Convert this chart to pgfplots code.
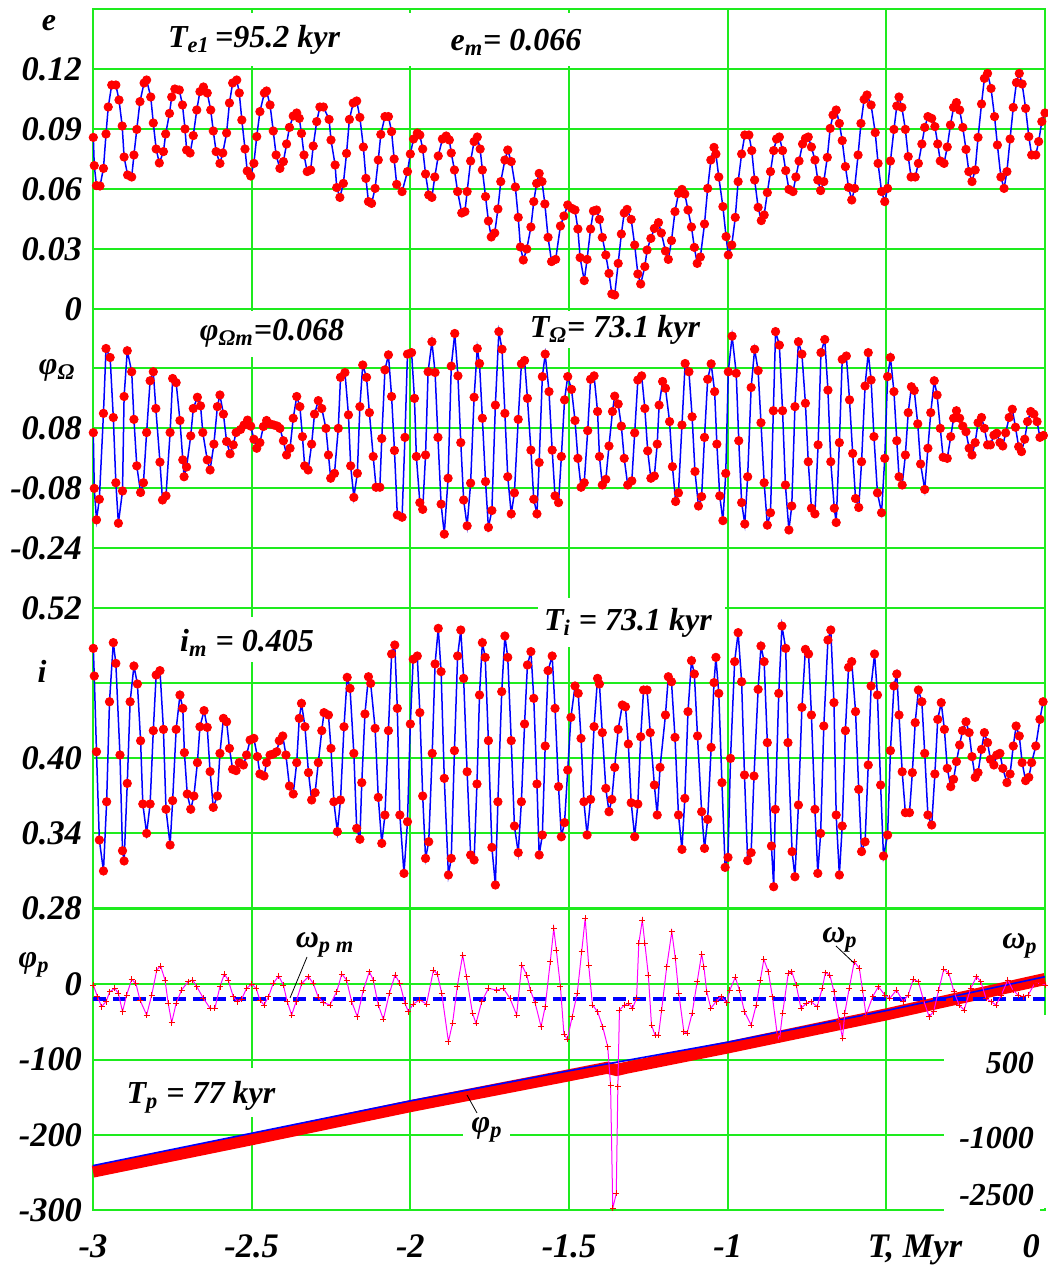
\documentclass[border=0pt]{standalone}
\usepackage{pgfplots}
\usepackage{pgfplotstable}
\pgfplotsset{compat=1.18}
\usepackage{fontspec}
\setmainfont{Liberation Serif}
\definecolor{gridg}{RGB}{30,235,30}
\definecolor{dotred}{RGB}{255,0,0}
\definecolor{lineblue}{RGB}{0,0,255}
\definecolor{pinkm}{RGB}{255,0,255}
\newcommand\lab{\fontsize{16}{18}\selectfont\bfseries\itshape}
\newcommand\tlab{\fontsize{17.2}{19}\selectfont\bfseries\itshape}
\pgfplotsset{
 panel/.style={scale only axis, anchor=south west, width=476pt, xmin=-3, xmax=0,
   xtick=\empty, axis line style={draw=none}, major tick length=0pt,
   ymajorgrids, grid style={gridg, line width=1pt},
   yticklabel style={font=\tlab, xshift=0pt},
   /pgf/number format/assume math mode=true},
 dots/.style={only marks, mark=*, mark size=2.1pt, mark options={draw=dotred, fill=dotred}},
 bline/.style={lineblue, line width=0.75pt, no marks},
}
% ---------------- data ----------------
\pgfplotstableread{
T e
-2.999 0.0858
-2.996 0.0717
-2.989 0.0617
-2.978 0.0615
-2.967 0.0703
-2.959 0.0875
-2.952 0.101
-2.941 0.112
-2.928 0.112
-2.918 0.1045
-2.908 0.0915
-2.902 0.076
-2.891 0.067
-2.878 0.066
-2.871 0.077
-2.862 0.0898
-2.852 0.1037
-2.839 0.113
-2.831 0.1145
-2.818 0.106
-2.810 0.093
-2.801 0.080
-2.791 0.073
-2.778 0.0787
-2.771 0.0875
-2.759 0.0978
-2.752 0.106
-2.742 0.110
-2.728 0.1095
-2.718 0.102
-2.710 0.090
-2.705 0.0795
-2.694 0.078
-2.684 0.0867
-2.673 0.0995
-2.663 0.1087
-2.652 0.111
-2.640 0.108
-2.629 0.0995
-2.621 0.089
-2.612 0.0787
-2.600 0.0728
-2.591 0.078
-2.579 0.088
-2.570 0.103
-2.560 0.113
-2.547 0.1145
-2.539 0.108
-2.531 0.0945
-2.521 0.080
-2.514 0.069
-2.503 0.0665
-2.493 0.0728
-2.484 0.0862
-2.474 0.0987
-2.460 0.108
-2.453 0.109
-2.442 0.102
-2.432 0.089
-2.423 0.077
-2.411 0.0703
-2.400 0.0737
-2.390 0.0825
-2.381 0.0908
-2.369 0.0965
-2.358 0.098
-2.350 0.0953
-2.343 0.0878
-2.335 0.077
-2.325 0.0687
-2.314 0.0695
-2.306 0.0815
-2.295 0.0937
-2.285 0.101
-2.274 0.101
-2.256 0.0948
-2.250 0.0845
-2.237 0.072
-2.232 0.0607
-2.222 0.0558
-2.211 0.0628
-2.201 0.0778
-2.192 0.0948
-2.180 0.103
-2.169 0.104
-2.159 0.0958
-2.148 0.081
-2.140 0.0653
-2.132 0.0537
-2.122 0.0528
-2.111 0.0603
-2.101 0.0745
-2.093 0.0873
-2.080 0.0962
-2.069 0.0962
-2.059 0.0887
-2.051 0.075
-2.043 0.0623
-2.026 0.0587
-2.009 0.0687
-2.000 0.0775
-1.990 0.085
-1.978 0.088
-1.970 0.087
-1.961 0.080
-1.952 0.0675
-1.942 0.057
-1.932 0.0558
-1.923 0.066
-1.912 0.0765
-1.899 0.085
-1.887 0.0865
-1.877 0.0845
-1.871 0.078
-1.861 0.0695
-1.851 0.0587
-1.838 0.048
-1.828 0.0487
-1.821 0.0587
-1.810 0.074
-1.799 0.0837
-1.789 0.086
-1.780 0.080
-1.773 0.0695
-1.763 0.0562
-1.754 0.044
-1.745 0.036
-1.734 0.038
-1.724 0.050
-1.715 0.0637
-1.702 0.0745
-1.693 0.0795
-1.682 0.0737
-1.669 0.061
-1.660 0.0458
-1.653 0.031
-1.644 0.0245
-1.633 0.030
-1.620 0.041
-1.611 0.0537
-1.602 0.0628
-1.594 0.0678
-1.585 0.0637
-1.576 0.0525
-1.566 0.0358
-1.555 0.0237
-1.542 0.0248
-1.527 0.0415
-1.516 0.0465
-1.504 0.052
-1.491 0.0503
-1.481 0.0495
-1.472 0.040
-1.465 0.0257
-1.452 0.0142
-1.443 0.0248
-1.432 0.040
-1.423 0.049
-1.413 0.0495
-1.404 0.0448
-1.395 0.0358
-1.384 0.027
-1.374 0.0178
-1.365 0.0075
-1.356 0.007
-1.345 0.0228
-1.335 0.0375
-1.326 0.048
-1.317 0.0498
-1.304 0.0448
-1.293 0.032
-1.283 0.0175
-1.274 0.0125
-1.261 0.0212
-1.254 0.0295
-1.242 0.0353
-1.231 0.0403
-1.218 0.0432
-1.209 0.038
-1.196 0.029
-1.187 0.0248
-1.177 0.0342
-1.166 0.0487
-1.155 0.0578
-1.144 0.0598
-1.135 0.0575
-1.125 0.0495
-1.114 0.041
-1.105 0.0308
-1.096 0.0228
-1.086 0.026
-1.073 0.0425
-1.063 0.0603
-1.053 0.0745
-1.043 0.0808
-1.037 0.0775
-1.028 0.066
-1.015 0.0512
-1.005 0.0362
-0.998 0.027
-0.987 0.032
-0.976 0.0458
-0.967 0.0637
-0.956 0.0775
-0.946 0.087
-0.933 0.087
-0.924 0.0792
-0.915 0.0645
-0.904 0.0508
-0.894 0.0442
-0.885 0.047
-0.875 0.0582
-0.865 0.0687
-0.855 0.0792
-0.846 0.085
-0.837 0.086
-0.827 0.0792
-0.817 0.0692
-0.807 0.0598
-0.794 0.0587
-0.785 0.066
-0.775 0.074
-0.764 0.0825
-0.755 0.0853
-0.746 0.086
-0.736 0.081
-0.725 0.0745
-0.716 0.0645
-0.707 0.0592
-0.697 0.0637
-0.686 0.0758
-0.677 0.0903
-0.668 0.097
-0.658 0.0995
-0.648 0.0928
-0.639 0.0842
-0.629 0.0712
-0.619 0.0608
-0.609 0.0545
-0.600 0.0603
-0.589 0.077
-0.580 0.0928
-0.570 0.1048
-0.561 0.107
-0.548 0.102
-0.535 0.0882
-0.526 0.0728
-0.515 0.0587
-0.505 0.0537
-0.496 0.0603
-0.487 0.074
-0.476 0.0898
-0.467 0.1015
-0.460 0.106
-0.451 0.1008
-0.440 0.0898
-0.431 0.0762
-0.422 0.066
-0.409 0.066
-0.399 0.0728
-0.388 0.0825
-0.379 0.0908
-0.369 0.0962
-0.357 0.0953
-0.347 0.0912
-0.338 0.0825
-0.330 0.074
-0.318 0.0728
-0.308 0.081
-0.298 0.092
-0.288 0.1008
-0.279 0.1032
-0.269 0.0995
-0.259 0.0908
-0.249 0.0798
-0.240 0.0687
-0.230 0.0637
-0.220 0.0695
-0.211 0.0858
-0.200 0.1025
-0.191 0.1153
-0.181 0.1178
-0.170 0.1103
-0.159 0.0962
-0.150 0.082
-0.139 0.066
-0.129 0.0603
-0.120 0.0687
-0.110 0.085
-0.100 0.1008
-0.090 0.1132
-0.081 0.1178
-0.072 0.1125
-0.061 0.1003
-0.051 0.0862
-0.042 0.077
-0.029 0.077
-0.020 0.0837
-0.010 0.0937
0.000 0.098
}\edata
\pgfplotstableread{
T v
-2.999 0.0676
-2.996 -0.081
-2.989 -0.165
-2.980 -0.110
-2.967 0.119
-2.959 0.292
-2.946 0.268
-2.936 0.108
-2.928 -0.066
-2.920 -0.174
-2.907 -0.088
-2.902 0.164
-2.892 0.286
-2.878 0.230
-2.871 0.103
-2.862 -0.021
-2.850 -0.092
-2.841 -0.066
-2.831 0.068
-2.820 0.206
-2.810 0.230
-2.802 0.132
-2.789 -0.011
-2.781 -0.112
-2.770 -0.101
-2.757 0.068
-2.749 0.212
-2.738 0.201
-2.726 0.100
-2.717 -0.005
-2.713 -0.050
-2.705 -0.024
-2.692 0.059
-2.684 0.132
-2.671 0.162
-2.661 0.139
-2.654 0.068
-2.640 -0.005
-2.631 -0.032
-2.619 0.037
-2.608 0.137
-2.600 0.168
-2.589 0.117
-2.579 0.044
-2.568 0.011
-2.558 0.035
-2.549 0.068
-2.535 0.076
-2.524 0.088
-2.513 0.101
-2.503 0.085
-2.493 0.050
-2.484 0.026
-2.474 0.041
-2.463 0.084
-2.453 0.100
-2.442 0.091
-2.430 0.088
-2.419 0.085
-2.411 0.079
-2.400 0.046
-2.390 0.008
-2.379 0.026
-2.369 0.106
-2.358 0.164
-2.348 0.137
-2.340 0.057
-2.333 -0.021
-2.322 -0.032
-2.311 0.037
-2.302 0.117
-2.290 0.153
-2.279 0.132
-2.266 0.079
-2.258 0.008
-2.251 -0.054
-2.239 -0.041
-2.227 0.079
-2.220 0.215
-2.206 0.228
-2.195 0.115
-2.188 -0.021
-2.178 -0.105
-2.167 -0.041
-2.159 0.137
-2.150 0.248
-2.138 0.215
-2.129 0.121
-2.117 0.004
-2.108 -0.078
-2.096 -0.078
-2.090 0.052
-2.080 0.235
-2.069 0.275
-2.059 0.164
-2.050 0.020
-2.041 -0.152
-2.026 -0.158
-2.017 0.055
-2.009 0.277
-1.996 0.281
-1.987 0.159
-1.981 0.004
-1.970 -0.119
-1.961 -0.137
-1.952 0.008
-1.944 0.230
-1.932 0.310
-1.922 0.228
-1.913 0.055
-1.903 -0.123
-1.893 -0.203
-1.881 -0.054
-1.871 0.245
-1.860 0.332
-1.850 0.219
-1.841 0.041
-1.832 -0.112
-1.821 -0.181
-1.810 -0.067
-1.799 0.162
-1.789 0.292
-1.782 0.252
-1.773 0.106
-1.763 -0.063
-1.754 -0.185
-1.743 -0.140
-1.732 0.141
-1.721 0.337
-1.711 0.290
-1.702 0.119
-1.693 -0.050
-1.682 -0.149
-1.672 -0.093
-1.660 0.103
-1.650 0.251
-1.640 0.260
-1.631 0.159
-1.620 0.021
-1.611 -0.110
-1.601 -0.149
-1.594 -0.012
-1.584 0.217
-1.575 0.277
-1.563 0.177
-1.553 0.021
-1.544 -0.101
-1.533 -0.119
-1.524 0.004
-1.514 0.155
-1.504 0.217
-1.492 0.183
-1.481 0.100
-1.472 -0.001
-1.462 -0.078
-1.452 -0.066
-1.441 0.073
-1.432 0.210
-1.421 0.219
-1.410 0.124
-1.404 0.004
-1.395 -0.072
-1.384 -0.057
-1.374 0.032
-1.363 0.124
-1.356 0.165
-1.345 0.144
-1.335 0.085
-1.326 -0.001
-1.315 -0.072
-1.302 -0.061
-1.293 0.067
-1.283 0.208
-1.271 0.219
-1.261 0.132
-1.252 0.019
-1.242 -0.054
-1.231 -0.048
-1.222 0.037
-1.216 0.141
-1.205 0.204
-1.196 0.186
-1.183 0.097
-1.174 -0.023
-1.164 -0.116
-1.155 -0.093
-1.144 0.088
-1.134 0.252
-1.122 0.230
-1.112 0.110
-1.103 -0.036
-1.092 -0.128
-1.082 -0.103
-1.073 0.055
-1.063 0.210
-1.052 0.251
-1.041 0.177
-1.034 0.037
-1.025 -0.101
-1.015 -0.167
-1.006 -0.041
-0.998 0.230
-0.986 0.325
-0.973 0.226
-0.965 0.046
-0.956 -0.119
-0.946 -0.176
-0.937 -0.050
-0.926 0.188
-0.915 0.290
-0.904 0.233
-0.895 0.094
-0.885 -0.066
-0.875 -0.179
-0.865 -0.146
-0.856 0.126
-0.849 0.337
-0.837 0.301
-0.827 0.126
-0.818 -0.072
-0.807 -0.192
-0.798 -0.128
-0.788 0.137
-0.777 0.310
-0.766 0.277
-0.755 0.146
-0.746 -0.010
-0.736 -0.134
-0.725 -0.149
-0.715 0.035
-0.706 0.281
-0.694 0.316
-0.684 0.181
-0.675 -0.010
-0.664 -0.134
-0.658 -0.172
-0.648 0.041
-0.639 0.263
-0.626 0.272
-0.616 0.155
-0.606 0.012
-0.597 -0.108
-0.587 -0.132
-0.578 -0.010
-0.567 0.192
-0.557 0.281
-0.548 0.208
-0.539 0.057
-0.528 -0.093
-0.515 -0.146
-0.505 -0.001
-0.496 0.217
-0.487 0.268
-0.476 0.177
-0.467 0.046
-0.460 -0.050
-0.450 -0.072
-0.440 0.008
-0.431 0.121
-0.421 0.190
-0.412 0.180
-0.401 0.091
-0.392 -0.016
-0.379 -0.084
-0.369 0.026
-0.360 0.121
-0.349 0.206
-0.340 0.168
-0.330 0.079
-0.321 0.002
-0.308 -0.001
-0.297 0.057
-0.288 0.106
-0.279 0.126
-0.269 0.106
-0.259 0.085
-0.249 0.070
-0.239 0.026
-0.230 0.008
-0.220 0.041
-0.211 0.094
-0.200 0.108
-0.191 0.079
-0.181 0.035
-0.172 0.035
-0.161 0.061
-0.152 0.066
-0.142 0.041
-0.133 0.032
-0.124 0.067
-0.113 0.108
-0.103 0.130
-0.093 0.082
-0.083 0.030
-0.074 0.017
-0.064 0.050
-0.055 0.097
-0.045 0.124
-0.035 0.117
-0.025 0.097
-0.016 0.055
-0.005 0.060
}\wdataO
\pgfplotstableread{
T i
-2.999 0.4877
-2.996 0.4656
-2.989 0.405
-2.980 0.3344
-2.967 0.3096
-2.957 0.365
-2.948 0.445
-2.936 0.4923
-2.928 0.4757
-2.915 0.4024
-2.907 0.3258
-2.902 0.3176
-2.892 0.3797
-2.883 0.445
-2.871 0.4736
-2.860 0.4592
-2.850 0.4138
-2.843 0.3632
-2.831 0.3397
-2.820 0.3632
-2.810 0.4219
-2.801 0.4664
-2.789 0.4699
-2.778 0.4229
-2.770 0.359
-2.757 0.3304
-2.749 0.3659
-2.738 0.4229
-2.726 0.4504
-2.717 0.4397
-2.712 0.4043
-2.703 0.3712
-2.692 0.359
-2.682 0.3696
-2.671 0.3963
-2.663 0.425
-2.650 0.4379
-2.640 0.4245
-2.631 0.3891
-2.621 0.3605
-2.608 0.3696
-2.600 0.4037
-2.589 0.4317
-2.579 0.429
-2.570 0.4077
-2.560 0.391
-2.549 0.3899
-2.539 0.3963
-2.526 0.3944
-2.516 0.4024
-2.505 0.4144
-2.493 0.4157
-2.482 0.4011
-2.474 0.3872
-2.461 0.3856
-2.453 0.3963
-2.442 0.4024
-2.432 0.4032
-2.421 0.405
-2.413 0.4138
-2.402 0.4176
-2.392 0.4024
-2.381 0.3776
-2.369 0.3712
-2.358 0.3963
-2.350 0.4317
-2.343 0.4437
-2.332 0.425
-2.321 0.3883
-2.311 0.3664
-2.300 0.3723
-2.290 0.3963
-2.279 0.4219
-2.272 0.4363
-2.258 0.4344
-2.250 0.4077
-2.241 0.365
-2.230 0.3411
-2.220 0.3664
-2.209 0.425
-2.199 0.4645
-2.190 0.4557
-2.178 0.4037
-2.169 0.3437
-2.159 0.335
-2.153 0.3803
-2.143 0.4352
-2.132 0.465
-2.125 0.4597
-2.111 0.4237
-2.101 0.3685
-2.090 0.3317
-2.080 0.3544
-2.069 0.4219
-2.059 0.4832
-2.049 0.4904
-2.041 0.4397
-2.033 0.3544
-2.020 0.3077
-2.009 0.349
-2.000 0.4272
-1.991 0.479
-1.978 0.4816
-1.970 0.4363
-1.961 0.3696
-1.952 0.3197
-1.942 0.333
-1.931 0.4037
-1.922 0.4752
-1.912 0.5037
-1.903 0.4691
-1.893 0.3837
-1.880 0.3064
-1.871 0.3197
-1.861 0.4059
-1.851 0.4816
-1.841 0.5024
-1.832 0.4637
-1.821 0.389
-1.810 0.3224
-1.799 0.3184
-1.790 0.3792
-1.782 0.4504
-1.773 0.4923
-1.764 0.4805
-1.754 0.4139
-1.743 0.3285
-1.732 0.2984
-1.724 0.365
-1.712 0.4531
-1.702 0.4976
-1.693 0.4805
-1.682 0.4139
-1.672 0.3456
-1.660 0.3243
-1.650 0.365
-1.640 0.4272
-1.631 0.4744
-1.620 0.4851
-1.611 0.4477
-1.601 0.3792
-1.594 0.3224
-1.584 0.3384
-1.575 0.4096
-1.566 0.4699
-1.553 0.4816
-1.544 0.4397
-1.533 0.3771
-1.524 0.337
-1.514 0.3483
-1.504 0.3904
-1.494 0.4325
-1.481 0.4576
-1.471 0.4517
-1.462 0.4157
-1.453 0.365
-1.443 0.3384
-1.432 0.3669
-1.421 0.4251
-1.410 0.4637
-1.404 0.4592
-1.395 0.4203
-1.384 0.3757
-1.374 0.357
-1.365 0.3669
-1.356 0.3925
-1.345 0.4229
-1.332 0.4424
-1.322 0.441
-1.313 0.4112
-1.304 0.3642
-1.293 0.337
-1.283 0.3632
-1.274 0.417
-1.265 0.4544
-1.254 0.4544
-1.244 0.4203
-1.231 0.3784
-1.222 0.3544
-1.213 0.3925
-1.196 0.4344
-1.187 0.465
-1.177 0.461
-1.166 0.4165
-1.155 0.3544
-1.144 0.3269
-1.135 0.3677
-1.125 0.4371
-1.114 0.4779
-1.105 0.4672
-1.095 0.4176
-1.082 0.357
-1.073 0.3277
-1.063 0.3509
-1.052 0.4085
-1.043 0.4603
-1.037 0.4805
-1.028 0.4517
-1.018 0.3803
-1.008 0.3125
-0.999 0.3205
-0.991 0.3997
-0.978 0.4771
-0.967 0.5003
-0.956 0.461
-0.947 0.3864
-0.937 0.3179
-0.926 0.3243
-0.917 0.3856
-0.904 0.4549
-0.895 0.4896
-0.885 0.4771
-0.875 0.4123
-0.862 0.3296
-0.855 0.297
-0.850 0.3589
-0.839 0.4517
-0.829 0.5056
-0.817 0.4877
-0.810 0.4123
-0.797 0.3251
-0.788 0.305
-0.777 0.3624
-0.766 0.4405
-0.755 0.4869
-0.745 0.4832
-0.736 0.4344
-0.725 0.3589
-0.716 0.3077
-0.707 0.3397
-0.697 0.4256
-0.684 0.4944
-0.675 0.5024
-0.665 0.4443
-0.658 0.3544
-0.648 0.3064
-0.639 0.3456
-0.629 0.4219
-0.619 0.4725
-0.609 0.4771
-0.597 0.4371
-0.587 0.3749
-0.578 0.3251
-0.567 0.333
-0.557 0.3944
-0.548 0.4576
-0.537 0.4832
-0.528 0.4504
-0.518 0.3784
-0.509 0.3216
-0.496 0.3384
-0.487 0.4059
-0.476 0.4576
-0.467 0.4672
-0.460 0.4344
-0.450 0.389
-0.440 0.3563
-0.427 0.3563
-0.418 0.3883
-0.409 0.4283
-0.399 0.4544
-0.388 0.445
-0.379 0.4037
-0.369 0.3544
-0.357 0.3464
-0.347 0.3872
-0.338 0.4309
-0.327 0.4443
-0.317 0.4229
-0.308 0.3917
-0.297 0.3771
-0.288 0.383
-0.279 0.3971
-0.269 0.4104
-0.260 0.4219
-0.249 0.429
-0.239 0.4203
-0.230 0.4011
-0.220 0.3845
-0.211 0.3883
-0.200 0.4069
-0.191 0.4203
-0.181 0.4123
-0.172 0.3989
-0.161 0.3944
-0.152 0.4024
-0.142 0.4037
-0.133 0.3917
-0.120 0.3803
-0.110 0.3872
-0.100 0.4096
-0.091 0.4256
-0.081 0.4176
-0.072 0.3963
-0.061 0.3819
-0.051 0.3845
-0.042 0.3963
-0.029 0.4096
-0.016 0.4309
-0.006 0.445
}\idata
\pgfplotstableread{
T w
-2.999 2000
-2.986 1767
-2.973 1567
-2.959 1667
-2.947 1867
-2.931 1933
-2.920 1833
-2.907 1467
-2.894 1800
-2.878 2113
-2.865 2033
-2.852 1700
-2.831 1400
-2.815 1800
-2.799 2300
-2.787 2380
-2.773 2100
-2.763 1633
-2.752 1247
-2.738 1633
-2.721 1900
-2.700 2067
-2.686 2100
-2.673 1967
-2.652 1733
-2.631 1533
-2.616 1533
-2.600 1967
-2.586 2220
-2.574 2100
-2.558 1767
-2.545 1667
-2.532 1713
-2.516 1933
-2.500 2020
-2.486 1933
-2.474 1700
-2.461 1600
-2.447 1767
-2.432 2033
-2.415 2180
-2.400 2000
-2.388 1667
-2.374 1400
-2.360 1667
-2.342 2033
-2.321 2167
-2.306 2033
-2.290 1753
-2.274 1647
-2.253 1600
-2.232 1867
-2.216 2220
-2.201 2100
-2.185 1667
-2.167 1367
-2.148 1900
-2.129 2267
-2.117 2100
-2.101 1600
-2.085 1313
-2.066 1833
-2.048 2200
-2.033 2033
-2.017 1633
-2.006 1467
-1.991 1620
-1.970 1700
-1.949 1620
-1.927 2300
-1.915 2220
-1.901 1833
-1.880 867
-1.867 1233
-1.852 1967
-1.835 2600
-1.823 2167
-1.804 1433
-1.793 1233
-1.775 1667
-1.754 1933
-1.728 1900
-1.707 1933
-1.686 1733
-1.665 1400
-1.649 2400
-1.633 2200
-1.622 1900
-1.607 1647
-1.588 1167
-1.575 1567
-1.559 2467
-1.548 3133
-1.540 2700
-1.527 1967
-1.516 1020
-1.505 913
-1.490 1367
-1.474 1833
-1.460 2667
-1.449 3333
-1.438 2400
-1.426 1600
-1.410 1467
-1.394 1167
-1.378 767
-1.369 0
-1.362 -2467
-1.351 -2167
-1.346 -33
-1.341 1500
-1.325 1600
-1.312 1633
-1.300 1533
-1.287 1733
-1.280 2833
-1.269 3300
-1.261 2833
-1.250 2200
-1.240 1200
-1.229 1000
-1.218 1000
-1.208 1500
-1.192 2367
-1.176 3067
-1.165 2533
-1.154 1833
-1.138 1067
-1.128 1033
-1.112 1433
-1.096 2067
-1.082 2620
-1.075 2367
-1.066 1867
-1.053 1533
-1.037 1667
-1.021 1767
-1.003 1647
-0.993 1900
-0.976 2153
-0.963 1900
-0.947 1467
-0.926 1200
-0.910 1600
-0.897 2100
-0.886 2513
-0.872 2267
-0.859 1767
-0.844 1020
-0.837 900
-0.827 1433
-0.809 2233
-0.798 2267
-0.784 2000
-0.769 1533
-0.752 1633
-0.737 1667
-0.718 1567
-0.702 1933
-0.692 2247
-0.678 2200
-0.665 1867
-0.649 1300
-0.638 933
-0.631 1433
-0.617 1933
-0.601 2467
-0.585 2333
-0.575 1900
-0.564 1400
-0.543 1767
-0.525 1967
-0.505 1800
-0.489 1733
-0.468 1900
-0.447 1667
-0.431 1800
-0.415 2113
-0.399 2067
-0.383 1700
-0.365 1367
-0.351 1467
-0.335 1900
-0.319 2313
-0.303 2233
-0.287 1867
-0.271 1600
-0.255 1500
-0.234 1933
-0.216 2167
-0.202 2067
-0.186 1733
-0.170 1667
-0.154 1600
-0.138 1800
-0.117 2100
-0.101 1900
-0.085 1800
-0.069 1767
-0.053 1800
-0.032 2033
-0.011 2033
0.000 2000
}\wpdata
\begin{document}
\lab
\begin{tikzpicture}[font=\lab]
\useasboundingbox (0,0) rectangle (524pt,633pt);
% ---------- background frame with vertical grid ----------
\begin{axis}[at={(46.5pt,28pt)}, anchor=south west, scale only axis,
  width=476pt, height=600.5pt, xmin=-3, xmax=0, ymin=0, ymax=1,
  xtick={-3,-2.5,-2,-1.5,-1,-0.5}, xticklabels={-3,-2.5,-2,-1.5,-1,{}},
  extra x ticks={0}, extra x tick labels={0},
  extra x tick style={grid=none, xticklabel style={anchor=north east, xshift=3pt}},
  ytick=\empty, xmajorgrids, grid style={gridg, line width=1pt},
  axis line style={gridg, line width=1pt}, major tick length=0pt,
  xticklabel style={font=\tlab, yshift=-7pt}]
\end{axis}
% ---------- panel 1: e ----------
\begin{axis}[panel, at={(46.5pt,478.5pt)}, height=150pt, ymin=0, ymax=0.15,
  ytick={0,0.03,0.06,0.09,0.12}, yticklabels={0,0.03,0.06,0.09,0.12}]
\addplot[dots] table[x=T, y=e] {\edata};
\addplot[bline] table[x=T, y=e] {\edata};
\end{axis}
% ---------- panel 2: phi_Omega ----------
\begin{axis}[panel, at={(46.5pt,359pt)}, height=120pt, ymin=-0.24, ymax=0.40,
  ytick={-0.24,-0.08,0.08,0.24}, yticklabels={-0.24,-0.08,0.08,{}}]
\addplot[dots] table[x=T, y=v] {\wdataO};
\addplot[bline] table[x=T, y=v] {\wdataO};
\end{axis}
% ---------- panel 3: i ----------
\begin{axis}[panel, at={(46.5pt,179pt)}, height=150pt, ymin=0.28, ymax=0.52,
  ytick={0.28,0.34,0.40,0.46,0.52}, yticklabels={0.28,0.34,0.40,{},0.52}]
\addplot[dots] table[x=T, y=i] {\idata};
\addplot[bline] table[x=T, y=i] {\idata};
\end{axis}
% ---------- panel 4: phi_p (left scale) ----------
\begin{axis}[panel, at={(46.5pt,28pt)}, height=150.5pt, ymin=-300, ymax=100, clip=false,
  ytick={-300,-200,-100,0,100}, yticklabels={-300,-200,-100,0,{}}]
\fill[white] (axis cs:-0.318,-41) rectangle (axis cs:0.006,-297);
\fill[white] (axis cs:-0.318,-297) rectangle (axis cs:-0.017,-304);
\addplot[dotred, line width=6pt, no marks] coordinates {
(-3,-249) (-2.5,-206) (-2,-162) (-1.5,-121) (-1.38,-111) (-1.35,-114) (-1.32,-111) (-1,-84) (-0.5,-40) (0,7)};
\addplot[lineblue, line width=0.8pt, no marks] coordinates {
(-3,-241) (-2.5,-198) (-2,-155) (-1.5,-115) (-1,-77) (-0.5,-35) (0,10)};
\end{axis}
% ---------- panel 4: omega_p (right scale) ----------
\begin{axis}[panel, at={(46.5pt,28pt)}, height=150.5pt, ymin=-2500, ymax=3520,
  ymajorgrids=false, ytick={-1000,500}, yticklabels={-1000,500},
  extra y ticks={-2500}, extra y tick labels={-2500},
  extra y tick style={yticklabel style={yshift=9pt}},
  yticklabel pos=right, yticklabel style={font=\lab, anchor=east, xshift=0pt, yshift=-1.5pt}]
\addplot[lineblue, line width=1.8pt, dash pattern=on 6.5pt off 3.5pt] coordinates {(-3,1720) (0,1720)};
\addplot[pinkm, line width=0.5pt, mark=+, mark size=1.5pt, mark options={dotred, line width=0.4pt}] table[x=T, y=w] {\wpdata};
\end{axis}
% ---------- annotations ----------
\fill[white] (80pt,600pt) rectangle (172.5pt,626.5pt);
\fill[white] (200pt,600pt) rectangle (295pt,626.5pt);
\fill[white] (95pt,454.5pt) rectangle (176pt,477.5pt);
\fill[white] (264pt,459pt) rectangle (351pt,477.5pt);
\fill[white] (85pt,302pt) rectangle (161pt,324.5pt);
\fill[white] (269pt,309.5pt) rectangle (362.5pt,334pt);
\fill[white] (57.5pt,74.5pt) rectangle (145pt,99pt);
\fill[white] (231.5pt,57pt) rectangle (255pt,75.5pt);
\node at (24.5pt,621.5pt) {e};
\node at (127pt,613pt) {T\textsubscript{e1}\,=95.2 kyr};
\node at (258pt,612pt) {e\textsubscript{m}= 0.066};
\node at (28.5pt,448pt) {φ\textsubscript{Ω}};
\node at (136pt,466.5pt) {φ\textsubscript{Ωm}=0.068};
\node at (307.5pt,468pt) {T\textsubscript{Ω}= 73.1 kyr};
\node at (21pt,297.5pt) {i};
\node at (123.5pt,311.5pt) {i\textsubscript{m} = 0.405};
\node at (314pt,321.5pt) {T\textsubscript{i} = 73.1 kyr};
\node at (17pt,150.5pt) {φ\textsubscript{p}};
\node at (162.5pt,160.5pt) {ω\textsubscript{p m}};
\draw[black, line width=0.4pt] (153.5pt,154.5pt) -- (145pt,134pt);
\node at (243.5pt,68pt) {φ\textsubscript{p}};
\draw[black, line width=0.4pt] (233.5pt,85.5pt) -- (238.5pt,76.5pt);
\node at (420pt,163pt) {ω\textsubscript{p}};
\draw[black, line width=0.4pt] (418pt,160pt) -- (427pt,151.5pt);
\node at (510pt,160pt) {ω\textsubscript{p}};
\node at (100.5pt,84.5pt) {T\textsubscript{p} = 77 kyr};
\node[font=\tlab] at (457.5pt,8pt) {T, Myr};
\end{tikzpicture}
\end{document}
